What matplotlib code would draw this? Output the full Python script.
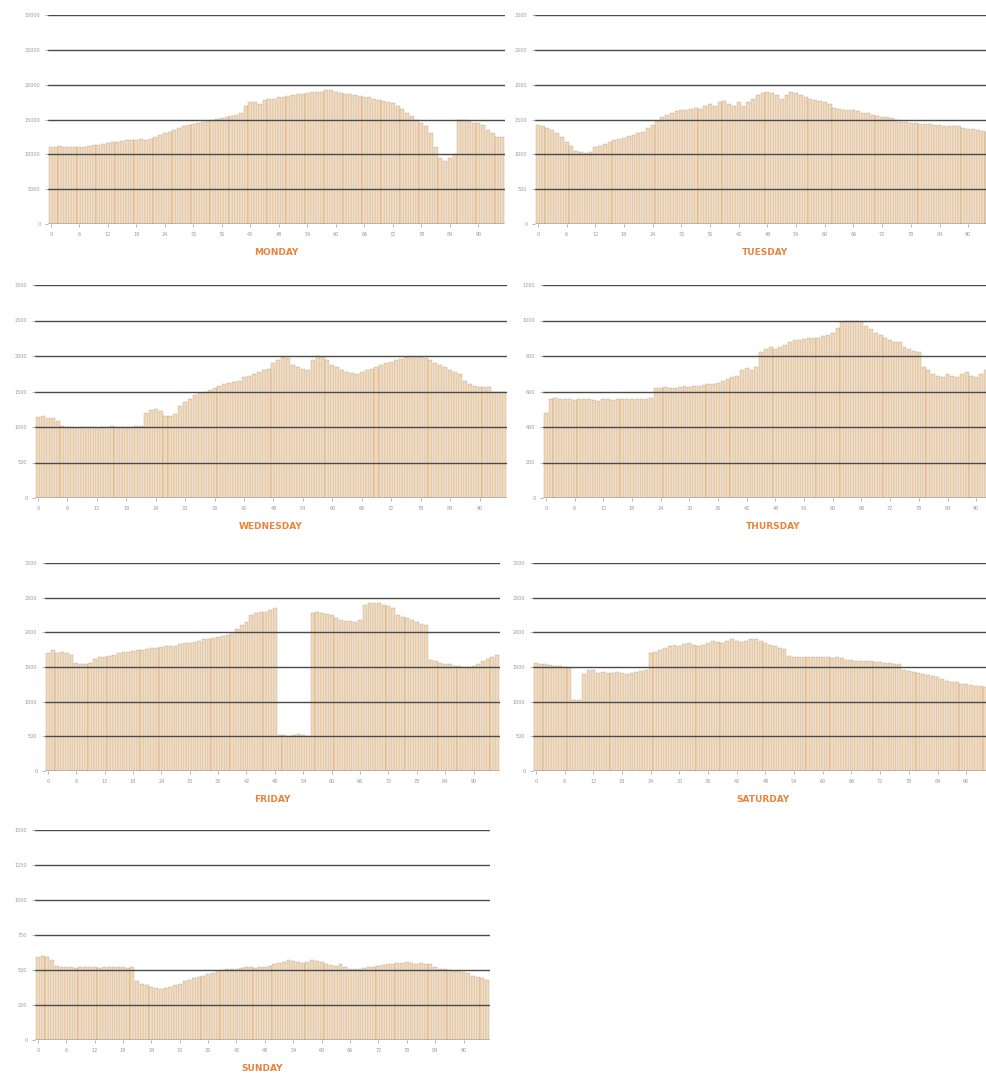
import numpy as np
import matplotlib
matplotlib.use("Agg")
import matplotlib.pyplot as plt

# 15-minute slots over a day, one panel per weekday
slots = np.arange(96)

monday = [11000, 11000, 11250, 11000, 11000, 11000,
          11000, 11100, 11200, 11300, 11400, 11500, 11600, 11700, 11800, 11900, 12000, 12100, 12100, 12200, 12000,
          12250, 12500, 12750, 13000, 13250, 13500, 13750, 14000, 14200, 14400, 14500,
          14700, 14800, 15000, 15100, 15200, 15400, 15500, 15700, 16000,
          17000, 17500, 17500, 17200,
          17800, 18000, 18000, 18200, 18300, 18400, 18500, 18600, 18700, 18800, 18900, 19000, 19000,
          19200, 19200, 19000,
          18800, 18700, 18600, 18500, 18400, 18300, 18200, 18000, 17800, 17600, 17500, 17300, 17000,
          16500, 16000, 15500, 15000, 14500, 14000, 13000,
          11000, 9500, 9000, 9500, 10000,
          15000, 15000, 14800, 14500, 14500, 14200,
          13500, 13000, 12500, 12500]

tuesday = [1425, 1400, 1380,
           1350, 1300, 1250, 1180, 1120, 1050,
           1030, 1020, 1030,
           1100, 1120, 1150, 1170, 1200, 1220, 1240, 1260, 1280, 1300, 1320,
           1380, 1420, 1480, 1530,
           1570, 1600, 1620, 1630, 1640, 1650, 1660, 1650,
           1700, 1720, 1700, 1750, 1760, 1720, 1700, 1750,
           1700, 1750, 1800, 1850, 1880, 1900, 1880, 1850, 1800,
           1850, 1900, 1880, 1850,
           1820, 1800, 1780, 1760, 1750, 1720,
           1660, 1650, 1640, 1640, 1630, 1620, 1600, 1600,
           1560, 1550, 1540, 1530, 1520, 1500,
           1470, 1460, 1450, 1450, 1440, 1440, 1430, 1420, 1420, 1410, 1400, 1400, 1400,
           1380, 1370, 1360, 1350, 1340, 1320, 1300]

wednesday = [1140, 1150, 1130, 1120, 1080,
             1010, 1000, 1000, 990, 1000, 1000, 1000, 990, 1000, 1000, 1010, 1000, 1000, 1000, 1000, 1010, 1020,
             1200, 1240, 1250, 1220,
             1150, 1150, 1180,
             1300, 1350, 1400, 1450, 1480,
             1500, 1520, 1550, 1580, 1600, 1620, 1640, 1650,
             1700, 1720, 1750, 1780, 1800, 1820,
             1900, 1950, 1980, 1970,
             1880, 1850, 1820, 1800,
             1950, 2000, 1980, 1950,
             1880, 1850, 1800, 1780, 1760, 1750,
             1780, 1800, 1820, 1850, 1880, 1900,
             1920, 1950, 1960, 1980, 2000, 1990, 1980, 1970, 1950,
             1900, 1880, 1850, 1800, 1780, 1750,
             1650, 1600, 1580, 1570, 1560, 1560,
             1500, 1500, 1500]

thursday = [480,
            560, 565, 560, 555, 560, 550, 560, 555, 560, 550, 545, 555, 560, 550, 555, 560, 555, 560, 560, 555, 560, 565,
            620, 620, 625, 620, 620, 625, 630, 625, 630, 630, 635, 640, 640, 650,
            660, 670, 680, 690,
            720, 730, 720, 740,
            820, 840, 850, 840, 850, 860,
            880, 890, 890, 895, 900, 900,
            900, 910, 920, 930, 960,
            990, 1000, 1000, 995, 990,
            970, 950, 930, 920, 900,
            890, 880, 880,
            850, 840, 830, 820,
            740, 720, 700, 690, 680,
            700, 690, 680, 700, 710, 690, 680, 700, 720, 700, 690, 680]

friday = [1700, 1750, 1700, 1720, 1700, 1680,
          1560, 1550, 1540, 1560,
          1620, 1650, 1650, 1660,
          1680, 1700, 1710, 1720, 1730, 1740, 1750, 1760, 1770, 1780, 1790, 1800, 1800, 1810,
          1830, 1840, 1850, 1860, 1880, 1900, 1910, 1920, 1930, 1950, 1960, 1980,
          2050, 2100, 2150,
          2250, 2280, 2300, 2300, 2320, 2350,
          520, 520, 510, 520, 530, 520, 510,
          2280, 2300, 2280, 2270, 2250,
          2200, 2180, 2170, 2160, 2150, 2180,
          2400, 2420, 2430, 2420, 2400, 2380, 2350,
          2250, 2220, 2200, 2180, 2150, 2120, 2100,
          1600, 1580, 1560, 1550, 1540, 1520, 1510, 1500, 1500,
          1520, 1550, 1580, 1620, 1650, 1680]

saturday = [1560, 1550, 1540, 1530, 1520, 1510, 1500, 1480,
            1020, 1030,
            1400, 1450, 1450,
            1420, 1430, 1410, 1420, 1430, 1420, 1400, 1420, 1430, 1440, 1450,
            1700, 1720, 1740,
            1780, 1800, 1820, 1800, 1830, 1850, 1820, 1800,
            1820, 1850, 1880, 1860, 1840, 1870, 1900, 1880, 1860, 1880, 1900,
            1900, 1880, 1850, 1820, 1800, 1780, 1760,
            1660, 1650, 1650, 1640, 1650, 1640, 1640, 1650, 1640, 1630, 1640, 1630,
            1600, 1600, 1590, 1590, 1580, 1580, 1570, 1570, 1560, 1560, 1550, 1550,
            1450, 1440, 1430, 1420, 1400, 1380, 1370, 1350,
            1320, 1300, 1290, 1280, 1260, 1250, 1240, 1230, 1220, 1210, 1200]

sunday = [590, 600, 590, 570,
          530, 525, 520, 520, 515, 520, 520, 525, 520, 515, 520, 520, 525, 520, 520, 515, 520,
          420, 400, 390, 380, 370, 365, 370, 380, 390, 400,
          420, 430, 440, 450, 460, 470, 480, 490, 500,
          505, 510, 510, 515, 520, 520, 515, 520,
          525, 530, 540, 550, 560, 570, 565, 560, 550, 560, 570, 565, 555,
          540, 535, 530, 540,
          520, 510, 505, 510, 515, 520,
          525, 530, 535, 540, 545, 550, 550, 555, 550, 545, 550, 545, 540,
          520, 510, 505, 500, 495, 490, 485, 480,
          460, 450, 440, 430]

day_names = ["MONDAY", "TUESDAY", "WEDNESDAY", "THURSDAY", "FRIDAY", "SATURDAY", "SUNDAY"]
day_values = [monday, tuesday, wednesday, thursday, friday, saturday, sunday]
y_steps = [5000, 500, 500, 200, 500, 500, 250]

# axes boxes in pixels: x0, x1, ytop, ybottom
boxes = [(48, 505, 15, 224), (535, 995, 15, 224),
         (35, 507, 285, 498), (543, 1003, 285, 498),
         (45, 500, 563, 771), (533, 993, 563, 771),
         (35, 490, 830, 1040)]

W, H = 987, 1078
fig = plt.figure(figsize=(W / 100, H / 100), dpi=100)

for name, vals, step, (x0, x1, yt, yb) in zip(day_names, day_values, y_steps, boxes):
    ax = fig.add_axes([x0 / W, 1 - yb / H, (x1 - x0) / W, (yb - yt) / H])
    ax.bar(slots, vals, width=0.82, color="#f2d8b8",
           edgecolor=(0.45, 0.38, 0.3, 0.4), linewidth=0.35, zorder=1)
    ax.set_ylim(0, step * 6)
    ax.set_xlim(-0.6, 95.6)
    ax.set_yticks(np.arange(0, step * 7, step))
    ax.yaxis.grid(True, color="#4a4a4a", linewidth=1.0, zorder=3)
    ax.set_axisbelow(False)
    ax.set_xticks(slots[::6])
    ax.set_xticklabels([str(s) for s in slots[::6]])
    ax.tick_params(axis="both", labelsize=3.5, colors="#999999", length=2, width=0.5)
    for sp in ax.spines.values():
        sp.set_visible(False)
    ax.set_xlabel(name, color="#e8843c", fontsize=6.5, fontweight="bold", labelpad=8)

fig.savefig("out.png", dpi=100)
